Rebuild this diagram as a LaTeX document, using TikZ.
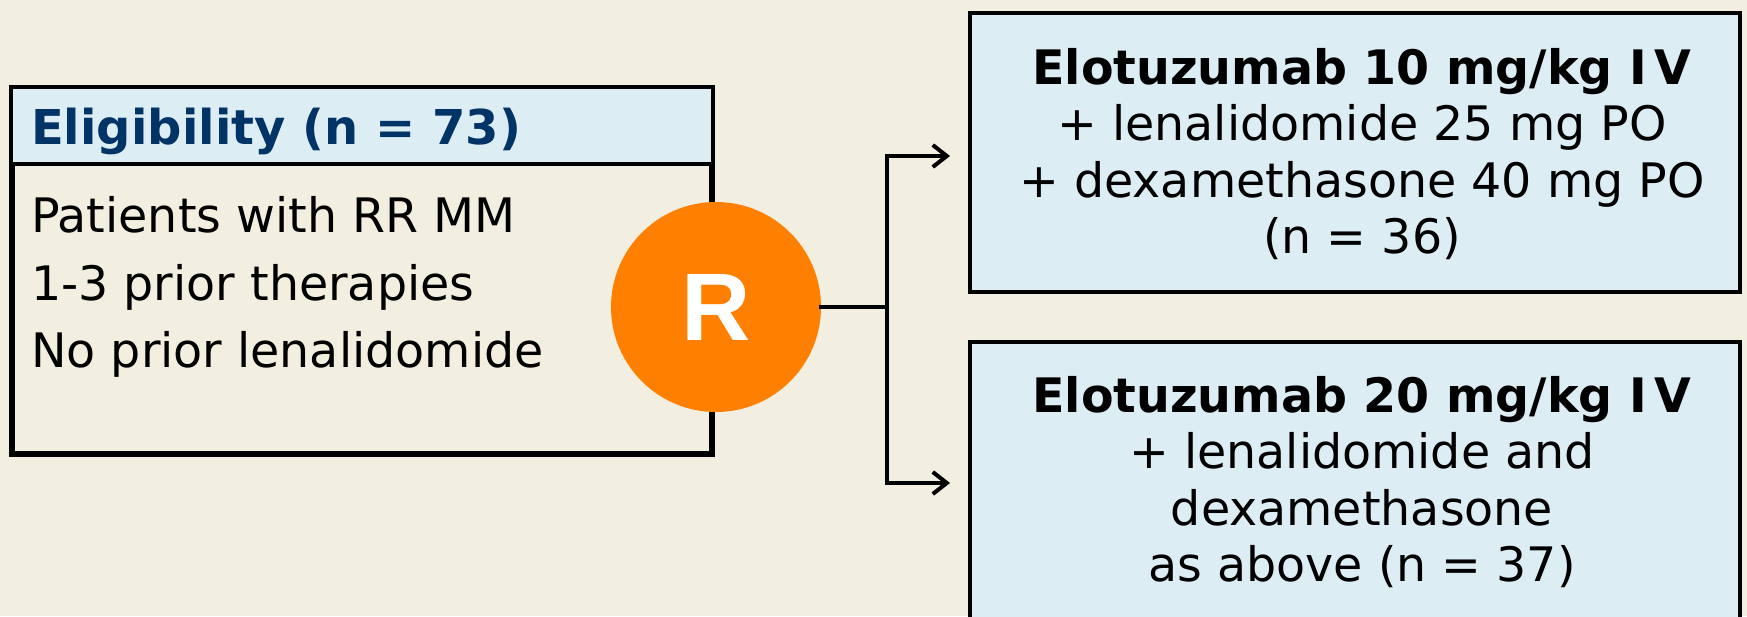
\documentclass[tikz,border=0pt]{standalone}
\usepackage{fontspec}
\setmainfont{DejaVu Sans}
\newfontfamily\rfont{Liberation Sans}
\usetikzlibrary{arrows.meta}
\definecolor{paper}{RGB}{242,238,224}
\definecolor{paleblue}{RGB}{221,237,244}
\definecolor{navy}{RGB}{0,51,102}
\definecolor{randorange}{RGB}{255,128,0}
\tikzset{
  frame/.style={draw=black, line width=4pt},
  armbox/.style={frame, fill=paleblue, anchor=north west, inner sep=0pt},
  bodytext/.style={font=\fontsize{47.5}{67.5}\selectfont, align=left, anchor=west, inner sep=0pt},
  armtext/.style={font=\fontsize{47.5}{56.5}\selectfont, align=center, inner sep=0pt},
  link/.style={line width=4pt, line cap=rect},
  flow/.style={link, -{Straight Barb[length=14pt,width=22pt,line width=4pt]}}
}
\begin{document}
\begin{tikzpicture}[x=1pt,y=-1pt]
  \useasboundingbox (0,0) rectangle (1747,616);
  \fill[paper] (0,0) rectangle (1747,616);

  % eligibility box with its header band
  \node[frame, anchor=north west, minimum width=698pt, minimum height=364pt, inner sep=0pt] (elig) at (11,87) {};
  \fill[paleblue] (elig.north west) rectangle ([yshift=-77pt]elig.north east);
  \draw[link] ([yshift=-77pt]elig.north west) -- ([yshift=-77pt]elig.north east);
  \draw[frame] (elig.north west) rectangle (elig.south east);
  \node[font=\bfseries\fontsize{48}{58}\selectfont, text=navy, anchor=west, inner sep=0pt] (eligtitle) at (31,131) {Eligibility (n = 73)};
  \node[bodytext] (criteria) at (31,287) {Patients with RR MM\\1-3 prior therapies\\No prior lenalidomide};

  % randomisation
  \node[circle, fill=randorange, minimum size=210pt, inner sep=0pt, text=white, font=\rfont\bfseries\fontsize{96}{100}\selectfont] (rand) at (716,307) {R};

  % treatment arms
  \node[armbox, minimum width=770pt, minimum height=279pt] (armA) at (968,11) {};
  \node[armtext] (armAtext) at (1362,154) {\textbf{Elotuzumab 10 mg/kg I\,V}\\+ lenalidomide 25 mg PO\\+ dexamethasone 40 mg PO\\(n = 36)};
  \node[armbox, minimum width=770pt, minimum height=300pt] (armB) at (968,340) {};
  \node[armtext] (armBtext) at (1362,482) {\textbf{Elotuzumab 20 mg/kg I\,V}\\+ lenalidomide and\\dexamethasone\\as above (n = 37)};

  % connectors
  \coordinate (split) at (887,307);
  \coordinate (toA) at (950,156);
  \coordinate (toB) at (950,483);
  \draw[link] (rand.east) -- (split);
  \draw[flow] (split) |- (toA);
  \draw[flow] (split) |- (toB);
\end{tikzpicture}
\end{document}
